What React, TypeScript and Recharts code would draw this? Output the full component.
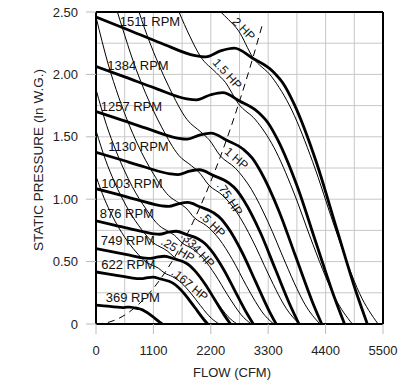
import React from 'react';
import {
  LineChart,
  Line,
  XAxis,
  YAxis,
  CartesianGrid,
  ReferenceLine,
  ReferenceDot,
  Label,
} from 'recharts';

type Pt = [number, number];

const FONT = '"Liberation Sans", Arial, Helvetica, sans-serif';

// axis ticks and grid
const flowTicks = [0, 1100, 2200, 3300, 4400, 5500];
const pressureTicks = [0, 0.5, 1, 1.5, 2, 2.5];
const flowGrid = [0, 550, 1100, 1650, 2200, 2750, 3300, 3850, 4400, 4950, 5500];
const pressureGrid = [0, 0.25, 0.5, 0.75, 1, 1.25, 1.5, 1.75, 2, 2.25, 2.5];

// fan curves: [flow CFM, static pressure in W.G.]
const rpm1511: Pt[] = [[0, 2.46], [600, 2.36], [1250, 2.25], [1900, 2.15], [2100, 2.14], [2400, 2.19], [2650, 2.21], [3000, 2.13], [3400, 2.02], [3600, 1.92], [3800, 1.76], [4220, 1.3], [4600, 0.78], [4990, 0.25], [5200, 0]];
const rpm1384: Pt[] = [[0, 2.064], [550, 1.98], [1145, 1.888], [1740, 1.804], [1924, 1.796], [2198, 1.837], [2427, 1.854], [2748, 1.787], [3114, 1.695], [3298, 1.611], [3481, 1.477], [3866, 1.091], [4214, 0.654], [4571, 0.21], [4763, 0]];
const rpm1257: Pt[] = [[0, 1.703], [499, 1.633], [1040, 1.557], [1581, 1.488], [1747, 1.481], [1997, 1.516], [2205, 1.53], [2496, 1.474], [2829, 1.398], [2995, 1.329], [3161, 1.218], [3511, 0.9], [3827, 0.54], [4151, 0.173], [4326, 0]];
const rpm1130: Pt[] = [[0, 1.376], [449, 1.32], [935, 1.258], [1421, 1.203], [1571, 1.197], [1795, 1.225], [1982, 1.236], [2244, 1.191], [2543, 1.13], [2692, 1.074], [2842, 0.984], [3156, 0.727], [3440, 0.436], [3732, 0.14], [3889, 0]];
const rpm1003: Pt[] = [[0, 1.084], [398, 1.04], [830, 0.991], [1261, 0.947], [1394, 0.943], [1593, 0.965], [1759, 0.974], [1991, 0.939], [2257, 0.89], [2390, 0.846], [2522, 0.776], [2801, 0.573], [3054, 0.344], [3312, 0.11], [3452, 0]];
const rpm876: Pt[] = [[0, 0.827], [348, 0.793], [725, 0.756], [1101, 0.723], [1217, 0.719], [1391, 0.736], [1536, 0.743], [1739, 0.716], [1971, 0.679], [2087, 0.645], [2203, 0.592], [2446, 0.437], [2667, 0.262], [2893, 0.084], [3014, 0]];
const rpm749: Pt[] = [[0, 0.604], [297, 0.58], [620, 0.553], [942, 0.528], [1041, 0.526], [1190, 0.538], [1314, 0.543], [1487, 0.523], [1685, 0.496], [1785, 0.472], [1884, 0.432], [2092, 0.319], [2280, 0.192], [2474, 0.061], [2578, 0]];
const rpm622: Pt[] = [[0, 0.417], [247, 0.4], [515, 0.381], [782, 0.364], [865, 0.363], [988, 0.371], [1091, 0.375], [1235, 0.361], [1400, 0.342], [1482, 0.325], [1565, 0.298], [1737, 0.22], [1894, 0.132], [2054, 0.042], [2141, 0]];
const rpm369: Pt[] = [[0, 0.152], [147, 0.146], [305, 0.139], [464, 0.133], [513, 0.132], [586, 0.135], [647, 0.136], [733, 0.13], [830, 0.122], [879, 0.115], [928, 0.105], [1031, 0.078], [1123, 0.047], [1219, 0.015], [1270, 0]];

// brake horsepower lines
const hp2: Pt[] = [[2390, 2.5], [2534, 2.441], [2732, 2.349], [3000, 2.14], [3367, 1.981], [3751, 1.715], [4152, 1.3], [4577, 0.772], [4850, 0.45], [5051, 0.245], [5406, 0]];
const hp15: Pt[] = [[1590, 2.5], [1801, 2.303], [2000, 2.145], [2302, 2.014], [2480, 1.936], [2726, 1.767], [3059, 1.635], [3408, 1.416], [3772, 1.073], [4158, 0.637], [4407, 0.372], [4590, 0.202], [4912, 0]];
const hp1: Pt[] = [[825, 2.5], [872, 2.44], [1000, 2.29], [1202, 2.08], [1392, 1.905], [1747, 1.637], [2011, 1.538], [2167, 1.477], [2381, 1.348], [2672, 1.248], [2977, 1.08], [3295, 0.819], [3634, 0.487], [3849, 0.284], [4009, 0.154], [4292, 0]];
const hp075: Pt[] = [[410, 2.5], [500, 2.38], [712, 2.107], [909, 1.891], [1092, 1.717], [1265, 1.572], [1587, 1.351], [1827, 1.269], [1968, 1.219], [2163, 1.113], [2428, 1.03], [2704, 0.891], [2993, 0.676], [3301, 0.402], [3497, 0.234], [3642, 0.127], [3898, 0]];
const hp05: Pt[] = [[0, 2.46], [232, 2.084], [437, 1.816], [794, 1.443], [1105, 1.2], [1387, 1.031], [1596, 0.968], [1720, 0.931], [1890, 0.849], [2121, 0.786], [2362, 0.68], [2615, 0.516], [2883, 0.306], [3056, 0.179], [3182, 0.097], [3405, 0]];
const hp0334: Pt[] = [[0, 1.88], [203, 1.592], [382, 1.388], [694, 1.102], [966, 0.917], [1212, 0.788], [1395, 0.74], [1503, 0.711], [1652, 0.649], [1854, 0.6], [2066, 0.52], [2286, 0.394], [2520, 0.234], [2671, 0.137], [2782, 0.074], [2976, 0]];
const hp025: Pt[] = [[0, 1.55], [184, 1.313], [347, 1.144], [630, 0.909], [877, 0.756], [1101, 0.65], [1267, 0.61], [1365, 0.586], [1500, 0.535], [1683, 0.495], [1875, 0.429], [2076, 0.325], [2288, 0.193], [2425, 0.113], [2526, 0.061], [2703, 0]];
const hp0167: Pt[] = [[0, 1.184], [161, 1.003], [303, 0.874], [551, 0.695], [767, 0.578], [962, 0.496], [1107, 0.466], [1193, 0.448], [1311, 0.409], [1472, 0.378], [1639, 0.328], [1815, 0.248], [2001, 0.148], [2120, 0.086], [2208, 0.047], [2363, 0]];

// dashed system curve
const systemCurve: Pt[] = [[0, 0], [250, 0.015], [500, 0.059], [750, 0.133], [1000, 0.236], [1250, 0.369], [1500, 0.531], [1750, 0.723], [2000, 0.944], [2250, 1.195], [2500, 1.475], [2750, 1.785], [3000, 2.124], [3200, 2.417]];

const fanCurves = [rpm1511, rpm1384, rpm1257, rpm1130, rpm1003, rpm876, rpm749, rpm622, rpm369];
const hpCurves = [hp2, hp15, hp1, hp075, hp05, hp0334, hp025, hp0167];

// annotation text, anchored in data units
const rpmLabels: { text: string; q: number; p: number }[] = [
  { text: '1511 RPM', q: 454, p: 2.426 },
  { text: '1384 RPM', q: 215, p: 2.07 },
  { text: '1257 RPM', q: 90, p: 1.745 },
  { text: '1130 RPM', q: 234, p: 1.42 },
  { text: '1003 RPM', q: 100, p: 1.127 },
  { text: '876 RPM', q: 71, p: 0.886 },
  { text: '749 RPM', q: 90, p: 0.671 },
  { text: '622 RPM', q: 100, p: 0.479 },
  { text: '369 RPM', q: 186, p: 0.215 },
];
const hpLabels: { text: string; q: number; p: number; angle: number }[] = [
  { text: '2 HP', q: 2830, p: 2.364, angle: 46 },
  { text: '1.5 HP', q: 2514, p: 2.004, angle: 48 },
  { text: '1 HP', q: 2690, p: 1.326, angle: 41 },
  { text: '.75 HP', q: 2562, p: 1.003, angle: 57 },
  { text: '.5 HP', q: 2236, p: 0.795, angle: 45 },
  { text: '.334 HP', q: 1949, p: 0.595, angle: 48 },
  { text: '.25 HP', q: 1565, p: 0.595, angle: 31 },
  { text: '.167 HP', q: 1795, p: 0.315, angle: 40 },
];

const rows = (pts: Pt[]) => pts.map(([q, p]) => ({ q, p }));

const tickStyle = { fontSize: 13, fontFamily: FONT, fill: '#222' };

export default function App() {
  return (
    <div style={{ position: 'absolute', left: 0, top: 0, width: 407, height: 387, background: '#fff' }}>
      <LineChart width={407} height={387} margin={{ top: 12, right: 24, bottom: 0, left: 0 }}>
        <CartesianGrid
          stroke="#c8c8c8"
          strokeWidth={1}
          horizontalValues={pressureGrid}
          verticalValues={flowGrid}
        />
        <XAxis
          type="number"
          dataKey="q"
          domain={[0, 5500]}
          ticks={flowTicks}
          interval={0}
          height={63}
          tickSize={10}
          tickMargin={12}
          tick={tickStyle}
          tickLine={{ stroke: '#bbb' }}
          axisLine={{ stroke: '#000', strokeWidth: 2 }}
          allowDataOverflow
        >
          <Label
            content={() => (
              <text x={232} y={377} textAnchor="middle" fontSize={13} fontFamily={FONT} fill="#222">
                FLOW (CFM)
              </text>
            )}
          />
        </XAxis>
        <YAxis
          type="number"
          domain={[0, 2.5]}
          ticks={pressureTicks}
          interval={0}
          width={96}
          tickSize={10}
          tickMargin={8}
          tick={tickStyle}
          tickLine={{ stroke: '#bbb' }}
          axisLine={{ stroke: '#000', strokeWidth: 2 }}
          tickFormatter={(v: number) => (v === 0 ? '0' : v.toFixed(2))}
          allowDataOverflow
        >
          <Label
            content={() => (
              <text
                x={38}
                y={160}
                transform="rotate(-90 38 160)"
                textAnchor="middle"
                dominantBaseline="central"
                fontSize={13.5}
                fontFamily={FONT}
                fill="#222"
              >
                STATIC PRESSURE (In W.G.)
              </text>
            )}
          />
        </YAxis>
        <ReferenceLine y={2.5} stroke="#000" strokeWidth={2} />
        <ReferenceLine x={5500} stroke="#000" strokeWidth={2} />

        {hpCurves.map((c, i) => (
          <Line
            key={`hp-${i}`}
            data={rows(c)}
            dataKey="p"
            type="monotone"
            stroke="#000"
            strokeWidth={1}
            dot={false}
            activeDot={false}
            isAnimationActive={false}
          />
        ))}
        <Line
          data={rows(systemCurve)}
          dataKey="p"
          type="monotone"
          stroke="#000"
          strokeWidth={1}
          strokeDasharray="7 5"
          dot={false}
          activeDot={false}
          isAnimationActive={false}
        />
        {fanCurves.map((c, i) => (
          <Line
            key={`rpm-${i}`}
            data={rows(c)}
            dataKey="p"
            type="monotone"
            stroke="#000"
            strokeWidth={2.8}
            dot={false}
            activeDot={false}
            isAnimationActive={false}
          />
        ))}

        {rpmLabels.map((l) => (
          <ReferenceDot
            key={l.text}
            x={l.q}
            y={l.p}
            r={0}
            shape={(props: any) => (
              <text
                x={props.cx}
                y={props.cy}
                dominantBaseline="central"
                fontSize={13}
                fontFamily={FONT}
                fill="#111"
              >
                {l.text}
              </text>
            )}
          />
        ))}
        {hpLabels.map((l) => (
          <ReferenceDot
            key={l.text}
            x={l.q}
            y={l.p}
            r={0}
            shape={(props: any) => (
              <text
                x={props.cx}
                y={props.cy}
                textAnchor="middle"
                dominantBaseline="central"
                transform={`rotate(${l.angle} ${props.cx} ${props.cy})`}
                fontSize={12}
                fontFamily={FONT}
                fill="#111"
              >
                {l.text}
              </text>
            )}
          />
        ))}
      </LineChart>
    </div>
  );
}
